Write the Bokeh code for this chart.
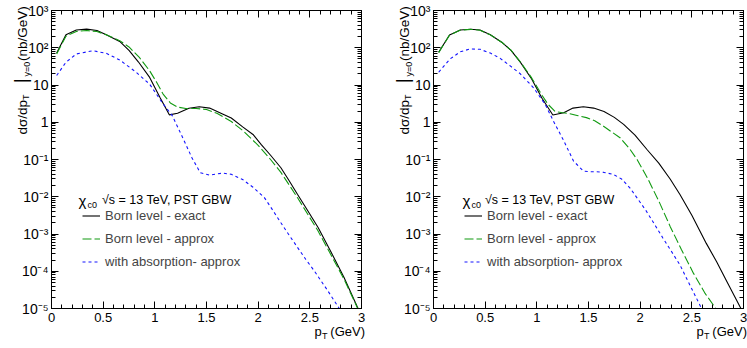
import math
from bokeh.plotting import figure
from bokeh.models import (Range1d, LinearAxis, LogAxis, FixedTicker, CustomJSTickFormatter,
                          Label, Legend, LegendItem, GridBox)
from bokeh.embed import file_html
from bokeh.resources import INLINE

# ---------------- data ----------------
# left panel
pt_exact_L = [0.05, 0.14, 0.24, 0.34, 0.44, 0.53, 0.66, 0.75, 0.84, 0.95, 1.05, 1.14, 1.22, 1.33,
              1.43, 1.53, 1.65, 1.74, 1.85, 1.95, 2.03, 2.12, 2.22, 2.30, 2.38, 2.48, 2.58, 2.70,
              2.83, 2.96, 3.0]
exact_L = [72, 224, 300, 316, 290, 222, 148, 85, 42, 16, 4.6, 1.58, 1.74, 2.38,
           2.6, 2.4, 1.7, 1.3, 0.75, 0.47, 0.25, 0.13, 0.06, 0.027, 0.0117, 0.0042, 0.0015, 3.5e-4,
           6.9e-5, 1.1e-5, 6.5e-6]

pt_approx_L = [0.05, 0.14, 0.24, 0.34, 0.44, 0.53, 0.66, 0.75, 0.85, 0.95, 1.02, 1.08, 1.15, 1.22,
               1.30, 1.40, 1.50, 1.60, 1.74, 1.85, 2.00, 2.12, 2.22, 2.38, 2.58, 2.70, 2.83, 2.96, 3.0]
approx_L = [68, 205, 275, 290, 272, 222, 155, 105, 55, 24, 11.5, 5.7, 3.3, 2.55,
            2.35, 2.35, 2.2, 1.75, 1.05, 0.6, 0.24, 0.1, 0.045, 0.0095, 0.0012, 2.9e-4, 6.2e-5, 1.05e-5, 6.5e-6]

pt_absorp_L = [0.05, 0.14, 0.24, 0.40, 0.53, 0.66, 0.82, 0.95, 1.07, 1.17, 1.27, 1.36, 1.44, 1.53,
               1.60, 1.66, 1.74, 1.85, 1.95, 2.06, 2.14, 2.22, 2.30, 2.38, 2.46, 2.54, 2.67, 2.785, 2.82]
absorp_L = [18, 41, 68, 83, 71, 47, 22, 10.5, 3.4, 1.48, 0.385, 0.11, 0.044, 0.038,
            0.041, 0.043, 0.040, 0.029, 0.018, 0.0095, 0.0044, 0.0020, 9.3e-4, 4.4e-4, 2.1e-4, 1.05e-4,
            3.1e-5, 1.0e-5, 7e-6]

# right panel
pt_exact_R = [0.05, 0.155, 0.26, 0.36, 0.45, 0.55, 0.66, 0.75, 0.84, 0.95, 1.05, 1.155, 1.26, 1.35,
              1.45, 1.55, 1.65, 1.75, 1.84, 1.95, 2.07, 2.18, 2.29, 2.385, 2.50, 2.64, 2.74, 2.84,
              2.97, 3.0]
exact_R = [76, 221, 300, 315, 300, 224, 141, 85, 41, 14.5, 4.4, 1.57, 1.8, 2.4,
           2.6, 2.4, 1.95, 1.35, 0.88, 0.45, 0.18, 0.08, 0.03, 0.0115, 0.0032, 5.6e-4, 1.8e-4, 5.2e-5,
           1.07e-5, 6.5e-6]

pt_approx_R = [0.05, 0.155, 0.26, 0.36, 0.45, 0.55, 0.66, 0.75, 0.84, 0.95, 1.05, 1.11, 1.177, 1.25,
               1.32, 1.40, 1.48, 1.56, 1.64, 1.72, 1.805, 1.90, 1.97, 2.07, 2.18, 2.29, 2.40, 2.515,
               2.63, 2.74, 2.78]
approx_R = [74, 218, 298, 312, 296, 222, 141, 86, 42, 15.5, 5.3, 3.0, 1.93, 1.8,
            1.7, 1.5, 1.33, 1.1, 0.8, 0.56, 0.385, 0.19, 0.1, 0.032, 0.0077, 1.6e-3, 3.8e-4, 8.9e-5,
            2.5e-5, 9.3e-6, 6e-6]

pt_absorp_R = [0.05, 0.16, 0.26, 0.355, 0.45, 0.55, 0.645, 0.74, 0.84, 0.97, 1.08, 1.16, 1.26, 1.355,
               1.45, 1.52, 1.58, 1.65, 1.74, 1.82, 1.90, 1.98, 2.06, 2.14, 2.22, 2.30, 2.385, 2.49,
               2.60, 2.63]
absorp_R = [22, 50, 78, 93, 91, 72, 52, 33, 20, 8.3, 3.05, 1.08, 0.32, 0.091,
            0.049, 0.047, 0.047, 0.045, 0.040, 0.030, 0.0174, 0.0085, 0.0041, 0.0018, 7.8e-4, 3.5e-4,
            1.48e-4, 3.8e-5, 9.3e-6, 6.5e-6]

x_ticks = [0, 0.5, 1, 1.5, 2, 2.5, 3]
x_tick_labels = ["0", "0.5", "1", "1.5", "2", "2.5", "3"]
y_ticks = [1e-5, 1e-4, 1e-3, 1e-2, 1e-1, 1, 10, 100, 1000]
y_tick_labels = ["10\u207b\u2075", "10\u207b\u2074", "10\u207b\u00b3", "10\u207b\u00b2", "10\u207b\u00b9",
                 "1", "10", "10\u00b2", "10\u00b3"]
legend_labels = ["Born level - exact", "Born level - approx", "with absorption- approx"]
header_symbol = "\u03c7"
header_sub = "c0"
header_rest = "\u221as = 13 TeV, PST GBW"
ytitle_parts = ["d\u03c3/dp", "T", "|", "y=0", "(nb/GeV)"]
xtitle_parts = ["p", "T", "(GeV)"]

# ---------------- layout constants (page pixels; Bokeh page has no body margin) ----------------
X0, X1 = 0.0, 3.0
Y0, Y1 = 1e-5, 1e3
H = 348
TOP, BOTTOM = 10, 40
WL, WR = 370, 377            # canvas widths of the two panels
FL_L, FL_R = 51, 433         # page x of the frames' left edges
FW = 310
FONT = "Liberation Sans"
GREEN = "#119a11"
BLUE = "#1414ff"


def fmt(tvals, tlabels, log):
    if log:
        code = ("for (let i = 0; i < tv.length; i++) {"
                " if (Math.abs(Math.log10(tick) - Math.log10(tv[i])) < 1e-6) return tl[i]; }"
                " return '';")
    else:
        code = ("for (let i = 0; i < tv.length; i++) {"
                " if (Math.abs(tick - tv[i]) < 1e-6) return tl[i]; } return '';")
    return CustomJSTickFormatter(args=dict(tv=tvals, tl=tlabels), code=code)


def blank():
    return CustomJSTickFormatter(code="return '';")


def style_axis(ax, size="13px"):
    ax.axis_line_color = "black"
    ax.axis_line_width = 1
    ax.major_tick_in = 7
    ax.major_tick_out = 0
    ax.minor_tick_in = 4
    ax.minor_tick_out = 0
    ax.major_tick_line_color = "black"
    ax.minor_tick_line_color = "black"
    ax.major_label_text_font = FONT
    ax.major_label_text_font_size = size
    ax.major_label_text_color = "black"


def make_panel(width, bl, br, ex_pt, ex, ap_pt, ap, ab_pt, ab):
    p = figure(width=width, height=H, x_range=Range1d(X0, X1), y_range=Range1d(Y0, Y1),
               y_axis_type="log", output_backend="svg", toolbar_location=None,
               min_border_left=bl, min_border_right=br, min_border_top=TOP, min_border_bottom=BOTTOM,
               background_fill_color="white", border_fill_color="white")
    p.frame_align = False
    p.xgrid.visible = False
    p.ygrid.visible = False
    p.outline_line_color = "black"
    p.outline_line_width = 1

    x_minor = [i / 10 for i in range(31)]
    y_minor = [k * 10 ** d for d in range(-5, 3) for k in range(2, 10)]
    xt = FixedTicker(ticks=x_ticks, minor_ticks=x_minor)
    yt = FixedTicker(ticks=y_ticks, minor_ticks=y_minor)

    xa = p.xaxis[0]
    xa.ticker = xt
    xa.formatter = fmt(x_ticks, x_tick_labels, False)
    style_axis(xa, "13px")
    xa.major_label_standoff = 4
    ya = p.yaxis[0]
    ya.ticker = yt
    ya.formatter = fmt(y_ticks, y_tick_labels, True)
    style_axis(ya, "14px")
    ya.major_label_standoff = 3

    top = LinearAxis(ticker=xt, formatter=blank())
    style_axis(top)
    top.major_label_standoff = 0
    top.major_label_text_font_size = "0px"
    p.add_layout(top, "above")
    right = LogAxis(ticker=yt, formatter=blank())
    style_axis(right)
    right.major_label_standoff = 0
    right.major_label_text_font_size = "0px"
    p.add_layout(right, "right")

    r1 = p.line(ex_pt, ex, line_color="black", line_width=1.1)
    r2 = p.line(ap_pt, ap, line_color=GREEN, line_width=1.1, line_dash="9 3")
    r3 = p.line(ab_pt, ab, line_color=BLUE, line_width=1.1, line_dash="3 3")

    leg = Legend(items=[LegendItem(label=legend_labels[0], renderers=[r1]),
                        LegendItem(label=legend_labels[1], renderers=[r2]),
                        LegendItem(label=legend_labels[2], renderers=[r3])],
                 location=(31, 37), padding=0, margin=0, spacing=4, label_height=19,
                 glyph_height=19, glyph_width=18, label_standoff=5,
                 border_line_alpha=0, background_fill_alpha=0,
                 label_text_font=FONT, label_text_font_size="13px")
    p.add_layout(leg)
    return p


pL = make_panel(WL, FL_L, WL - FL_L - FW, pt_exact_L, exact_L, pt_approx_L, approx_L,
                pt_absorp_L, absorp_L)
pR = make_panel(WR, FL_R - WL, WL + WR - FL_R - FW, pt_exact_R, exact_R, pt_approx_R, approx_R,
                pt_absorp_R, absorp_R)

# ---------------- transparent overlay carrying the titles (page-pixel coordinates) ----------------
ov = figure(width=WL + WR, height=H, x_range=Range1d(0, WL + WR), y_range=Range1d(H, 0),
            x_axis_location=None, y_axis_location=None, output_backend="svg", toolbar_location=None,
            min_border=0, min_border_left=0, min_border_right=0, min_border_top=0, min_border_bottom=0,
            outline_line_color=None, background_fill_alpha=0, border_fill_alpha=0)
ov.frame_align = False
ov.grid.visible = False


def lab(x, y, text, size, align="left", angle=0.0):
    ov.add_layout(Label(x=x, y=y, text=text, text_font=FONT, text_font_size=size,
                        text_align=align, text_baseline="alphabetic", angle=angle,
                        text_color="black"))


a = math.pi / 2
for fl, chi_x, sub_x, rest_x in ((FL_L, 78, 87, 101.5), (FL_R, 462, 471, 484.5)):
    fr = fl + FW
    # y title (reads bottom to top)
    lab(fl - 29, 134, ytitle_parts[0], "13.5px", angle=a)
    lab(fl - 25.5, 99.5, ytitle_parts[1], "9px", angle=a)
    lab(fl - 31, 82.5, ytitle_parts[2], "18px", angle=a)
    lab(fl - 25, 76, ytitle_parts[3], "9px", angle=a)
    lab(fl - 29, 60.5, ytitle_parts[4], "13.5px", angle=a)
    # x title, right aligned at the axis end
    lab(fr - 47, 331, xtitle_parts[0], "13px")
    lab(fr - 39.5, 335.5, xtitle_parts[1], "9px")
    lab(fr + 3.5, 331, xtitle_parts[2], "13px", align="right")
    # legend header
    lab(chi_x, 199.5, header_symbol, "15px")
    lab(sub_x, 204.5, header_sub, "9px")
    lab(rest_x, 199.5, header_rest, "12.5px")

layout = GridBox(children=[(pL, 0, 0), (pR, 0, 1), (ov, 0, 0, 1, 2)])
open("out.html", "w").write(file_html(layout, INLINE))
